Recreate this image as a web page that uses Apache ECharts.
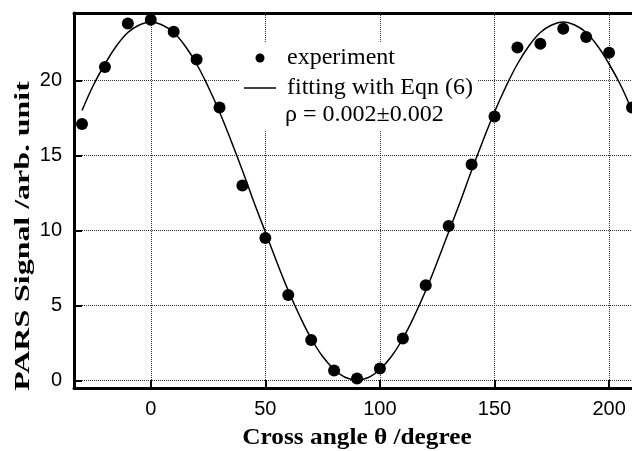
<!DOCTYPE html>
<html>
<head>
<meta charset="utf-8">
<script src="https://cdn.jsdelivr.net/npm/echarts@6/dist/echarts.min.js"></script>
<style>
  html, body { margin: 0; padding: 0; background: #fff; }
  #chart { width: 632px; height: 451px; }
</style>
</head>
<body>
<div id="chart"></div>
<script>
// measured points (cross angle, signal)
var expAngles = [-30, -20, -10, 0, 10, 20, 30, 40, 50, 60, 70, 80, 90, 100, 110, 120, 130, 140, 150, 160, 170, 180, 190, 200, 210];
var expSignal = [17.1, 20.9, 23.8, 24.05, 23.25, 21.4, 18.2, 13.0, 9.5, 5.7, 2.7, 0.67, 0.13, 0.8, 2.8, 6.35, 10.3, 14.4, 17.6, 22.2, 22.45, 23.45, 22.9, 21.85, 18.2];

// fitted curve, every 5 degrees
var fitAngles = [-30, -25, -20, -15, -10, -5, 0, 5, 10, 15, 20, 25, 30, 35, 40, 45, 50, 55, 60, 65, 70, 75, 80, 85, 90,
                 95, 100, 105, 110, 115, 120, 125, 130, 135, 140, 145, 150, 155, 160, 165, 170, 175, 180, 185, 190, 195, 200, 205, 210];
var fitSignal = [18.0, 19.7, 21.1, 22.3, 23.2, 23.7, 23.9, 23.7, 23.2, 22.3, 21.1, 19.6, 17.9, 16.0, 14.0, 11.9, 9.9, 7.9, 6.0, 4.3, 2.8, 1.6, 0.75, 0.2, 0.05,
                 0.2, 0.75, 1.6, 2.8, 4.3, 6.0, 7.9, 9.9, 11.9, 14.0, 16.0, 17.9, 19.6, 21.1, 22.3, 23.2, 23.7, 23.9, 23.7, 23.2, 22.3, 21.1, 19.7, 18.0];

var legendNames = ['experiment', 'fitting with Eqn (6)'];
var rhoText = '\u03c1 = 0.002\u00b10.002';
var xTitle = 'Cross angle \u03b8 /degree';
var yTitle = 'PARS Signal /arb. unit';

var chart = echarts.init(document.getElementById('chart'));

var serif = 'Liberation Serif';
var sans = 'Liberation Sans';

chart.setOption({
    animation: false,
    backgroundColor: '#fff',
    grid: { left: 74, right: 0, top: 13, bottom: 63 },
    legend: {
        data: [
            { name: legendNames[0], icon: 'circle' },
            { name: legendNames[1], icon: 'path://M0,0h32v1.5h-32z' }
        ],
        orient: 'vertical',
        left: 240,
        top: 42,
        itemWidth: 32,
        itemHeight: 9,
        itemGap: 6,
        backgroundColor: '#fff',
        padding: [4, 4, 30, 4],
        textStyle: { fontFamily: serif, fontSize: 24, color: '#000', padding: [0, 0, 0, 6] }
    },
    graphic: [{
        type: 'text',
        x: 285,
        y: 115,
        z: 100,
        style: { text: rhoText, font: '24px "Liberation Serif"', fill: '#000', textVerticalAlign: 'middle' }
    }, {
        // axis titles are drawn slightly stretched, as in the original figure
        type: 'text',
        x: 357,
        y: 438,
        scaleX: 1.1,
        style: { text: xTitle, font: 'bold 23px "Liberation Serif"', fill: '#000', textAlign: 'center', textVerticalAlign: 'middle' }
    }, {
        type: 'text',
        x: 23,
        y: 236,
        rotation: Math.PI / 2,
        scaleX: 1.45,
        style: { text: yTitle, font: 'bold 22px "Liberation Serif"', fill: '#000', textAlign: 'center', textVerticalAlign: 'middle' }
    }],
    xAxis: [{
        type: 'value',
        min: -33.5,
        max: 210,
        splitNumber: 5,
        axisLine: { onZero: false, lineStyle: { color: '#000', width: 3 } },
        axisTick: { inside: true, length: 8, lineStyle: { color: '#000', width: 2 } },
        axisLabel: { fontFamily: sans, fontSize: 20, color: '#000', margin: 11, showMinLabel: false, showMaxLabel: false },
        splitLine: { show: true, lineStyle: { type: 'dotted', color: '#333', width: 1 } }
    }, {
        type: 'value',
        position: 'top',
        min: -33.5,
        max: 210,
        axisLine: { show: true, onZero: false, lineStyle: { color: '#000', width: 3 } },
        axisTick: { show: false },
        axisLabel: { show: false },
        splitLine: { show: false }
    }],
    yAxis: {
        type: 'value',
        min: -0.5,
        max: 24.5,
        splitNumber: 5,
        axisLine: { show: true, onZero: false, lineStyle: { color: '#000', width: 3 } },
        axisTick: { show: true, inside: true, length: 8, lineStyle: { color: '#000', width: 2 } },
        axisLabel: { fontFamily: sans, fontSize: 20, color: '#000', margin: 12, showMinLabel: false, showMaxLabel: false },
        splitLine: { show: true, lineStyle: { type: 'dotted', color: '#333', width: 1 } }
    },
    series: [{
        name: legendNames[0],
        type: 'scatter',
        symbolSize: 12,
        itemStyle: { color: '#000', opacity: 1 },
        data: expAngles.map(function (a, i) { return [a, expSignal[i]]; }),
        z: 3
    }, {
        name: legendNames[1],
        type: 'line',
        smooth: 0.4,
        symbol: 'none',
        lineStyle: { color: '#000', width: 1.5 },
        itemStyle: { color: '#000' },
        data: fitAngles.map(function (a, i) { return [a, fitSignal[i]]; }),
        z: 2
    }]
});
</script>
</body>
</html>
